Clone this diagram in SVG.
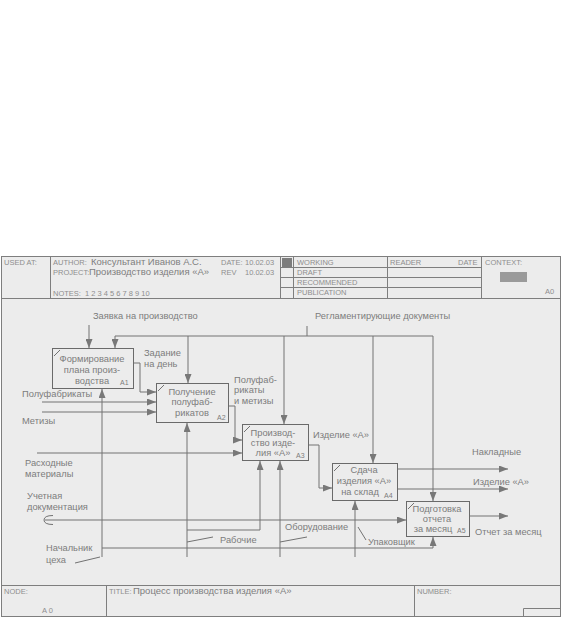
<svg xmlns="http://www.w3.org/2000/svg" width="563" height="639" viewBox="0 0 563 639">
<style>
.ln{stroke:#727272;stroke-width:1;fill:none}
.fr{stroke:#7e7e7e;stroke-width:1;fill:none}
.bx{fill:none;stroke:#6a6a6a;stroke-width:1}
.t{font-family:"Liberation Sans",Arial,sans-serif;font-size:9.3px;fill:#7c7c7c}
.c{text-anchor:middle}
.n{font-family:"Liberation Sans",Arial,sans-serif;font-size:7px;fill:#7c7c7c}
.hl{font-family:"Liberation Sans",Arial,sans-serif;font-size:7.5px;fill:#8e8e8e}
.hv{font-family:"Liberation Sans",Arial,sans-serif;font-size:9.5px;fill:#7e7e7e}
</style>
<defs>
<marker id="ar" markerUnits="userSpaceOnUse" markerWidth="9" markerHeight="7" refX="9" refY="3.5" orient="auto">
<path d="M0,0 L9,3.5 L0,7 z" fill="#787878"/>
</marker>
</defs>
<rect x="0" y="0" width="563" height="639" fill="#ffffff"/>
<rect x="1" y="256" width="560" height="361" fill="#ececec"/>
<g id="frame">
<rect class="fr" x="1.5" y="256.5" width="559" height="360"/>
<line class="fr" x1="1" y1="298.5" x2="561" y2="298.5"/>
<line class="fr" x1="50.5" y1="256" x2="50.5" y2="298"/>
<line class="fr" x1="280.5" y1="256" x2="280.5" y2="298"/>
<line class="fr" x1="293.5" y1="256" x2="293.5" y2="298"/>
<line class="fr" x1="387.5" y1="256" x2="387.5" y2="298"/>
<line class="fr" x1="481.5" y1="256" x2="481.5" y2="298"/>
<line class="fr" x1="280" y1="267.5" x2="481" y2="267.5"/>
<line class="fr" x1="280" y1="277.5" x2="481" y2="277.5"/>
<line class="fr" x1="280" y1="287.5" x2="481" y2="287.5"/>
<rect x="282" y="258" width="10" height="9" fill="#7d7d7d"/>
<rect x="500" y="272" width="27" height="10" fill="#9a9a9a"/>
<text class="hl" x="4" y="265">USED AT:</text>
<text class="hl" x="53" y="265">AUTHOR:</text>
<text class="hv" x="91" y="265">Консультант Иванов А.С.</text>
<text class="hl" x="221" y="265">DATE:</text>
<text class="hl" x="245" y="265">10.02.03</text>
<text class="hl" x="53" y="275">PROJECT:</text>
<text class="hv" x="89" y="275">Производство изделия «А»</text>
<text class="hl" x="221" y="275">REV</text>
<text class="hl" x="245" y="275">10.02.03</text>
<text class="hl" x="53" y="296">NOTES:</text>
<text class="hl" x="85" y="296">1 2 3 4 5 6 7 8 9 10</text>
<text class="hl" x="297" y="265">WORKING</text>
<text class="hl" x="297" y="275">DRAFT</text>
<text class="hl" x="297" y="285">RECOMMENDED</text>
<text class="hl" x="297" y="295">PUBLICATION</text>
<text class="hl" x="390" y="265">READER</text>
<text class="hl" x="458" y="265">DATE</text>
<text class="hl" x="485" y="265">CONTEXT:</text>
<text class="hl" x="545" y="294">A0</text>
<line class="fr" x1="1" y1="585.5" x2="561" y2="585.5"/>
<line class="fr" x1="106.5" y1="585" x2="106.5" y2="617"/>
<line class="fr" x1="414.5" y1="585" x2="414.5" y2="617"/>
<path class="fr" d="M523.5,617 V608.5 H561"/>
<text class="hl" x="4" y="594">NODE:</text>
<text class="hl" x="42" y="613">A 0</text>
<text class="hl" x="109" y="594">TITLE:</text>
<text class="hv" x="133" y="594">Процесс производства изделия «А»</text>
<text class="hl" x="417" y="594">NUMBER:</text>
</g>
<g id="connectors">
<path class="ln" d="M89,325 V348" marker-end="url(#ar)"/>
<path class="ln" d="M307,326 V336"/>
<path class="ln" d="M115,336 H433 V501" marker-end="url(#ar)"/>
<path class="ln" d="M115,336 V348" marker-end="url(#ar)"/>
<path class="ln" d="M188,336 V383" marker-end="url(#ar)"/>
<path class="ln" d="M284,336 V424" marker-end="url(#ar)"/>
<path class="ln" d="M373,336 V463" marker-end="url(#ar)"/>
<path class="ln" d="M133,363 H140 V392 H156" marker-end="url(#ar)"/>
<path class="ln" d="M42,402 H156" marker-end="url(#ar)"/>
<path class="ln" d="M42,412 H156" marker-end="url(#ar)"/>
<path class="ln" d="M229,406 H235 V440 H242" marker-end="url(#ar)"/>
<path class="ln" d="M37,453 H242" marker-end="url(#ar)"/>
<path class="ln" d="M308,445 H319 V488 H332" marker-end="url(#ar)"/>
<path class="ln" d="M397,469 H508" marker-end="url(#ar)"/>
<path class="ln" d="M397,489 H508" marker-end="url(#ar)"/>
<path class="ln" d="M469,516 H508" marker-end="url(#ar)"/>
<path class="ln" d="M45,520 H406" marker-end="url(#ar)"/>
<path class="ln" d="M53,515.5 Q44,515.5 44,520 Q44,524.5 53,524.5"/>
<path class="ln" d="M102,557 V389" marker-end="url(#ar)"/>
<path class="ln" d="M102,548 H433 V537" marker-end="url(#ar)"/>
<path class="ln" d="M75,563 L100,557"/>
<path class="ln" d="M187,557 V423" marker-end="url(#ar)"/>
<path class="ln" d="M187,530 H260 V461" marker-end="url(#ar)"/>
<path class="ln" d="M187,542 L213,537"/>
<path class="ln" d="M280,557 V461" marker-end="url(#ar)"/>
<path class="ln" d="M280,542 L307,537"/>
<path class="ln" d="M355,557 V501" marker-end="url(#ar)"/>
<path class="ln" d="M358,527 L366,540"/>
</g>
<g id="labels">
<text class="t" x="93" y="319">Заявка на производство</text>
<text class="t" x="315" y="319">Регламентирующие документы</text>
<text class="t" x="144" y="356">Задание</text>
<text class="t" x="144" y="367">на день</text>
<text class="t" x="22" y="397">Полуфабрикаты</text>
<text class="t" x="22" y="424">Метизы</text>
<text class="t" x="234" y="383">Полуфаб-</text>
<text class="t" x="234" y="393">рикаты</text>
<text class="t" x="234" y="404">и метизы</text>
<text class="t" x="25" y="466">Расходные</text>
<text class="t" x="25" y="477">материалы</text>
<text class="t" x="313" y="438">Изделие «А»</text>
<text class="t" x="472" y="455">Накладные</text>
<text class="t" x="473" y="485">Изделие «А»</text>
<text class="t" x="27" y="499">Учетная</text>
<text class="t" x="27" y="510">документация</text>
<text class="t" x="475" y="535">Отчет за месяц</text>
<text class="t" x="285" y="530">Оборудование</text>
<text class="t" x="220" y="543">Рабочие</text>
<text class="t" x="368" y="545">Упаковщик</text>
<text class="t" x="46" y="551">Начальник</text>
<text class="t" x="46" y="563">цеха</text>
</g>
<g id="A1">
<rect class="bx" x="52.5" y="348.5" width="81" height="40"/>
<path class="ln" d="M54,356 L60,350"/>
<text class="t c" x="92" y="362">Формирование</text>
<text class="t c" x="92" y="373">плана произ-</text>
<text class="t c" x="92" y="384">водства</text>
<text class="n" x="120" y="385">A1</text>
</g>
<g id="A2">
<rect class="bx" x="156.5" y="383.5" width="72" height="39"/>
<path class="ln" d="M158,391 L164,385"/>
<text class="t c" x="192" y="395">Получение</text>
<text class="t c" x="192" y="405">полуфаб-</text>
<text class="t c" x="192" y="416">рикатов</text>
<text class="n" x="217" y="420">A2</text>
</g>
<g id="A3">
<rect class="bx" x="242.5" y="424.5" width="66" height="36"/>
<path class="ln" d="M244,432 L250,426"/>
<text class="t c" x="273" y="436">Производ-</text>
<text class="t c" x="273" y="446">ство изде-</text>
<text class="t c" x="273" y="456">лия «А»</text>
<text class="n" x="296" y="458">A3</text>
</g>
<g id="A4">
<rect class="bx" x="332.5" y="463.5" width="65" height="37"/>
<path class="ln" d="M334,471 L340,465"/>
<text class="t c" x="364" y="473">Сдача</text>
<text class="t c" x="364" y="484">изделия «А»</text>
<text class="t c" x="360" y="495">на склад</text>
<text class="n" x="384" y="498">A4</text>
</g>
<g id="A5">
<rect class="bx" x="406.5" y="501.5" width="63" height="35"/>
<path class="ln" d="M408,509 L414,503"/>
<text class="t c" x="437" y="512">Подготовка</text>
<text class="t c" x="437" y="522">отчета</text>
<text class="t c" x="433" y="532">за месяц</text>
<text class="n" x="457" y="533">A5</text>
</g>
</svg>
